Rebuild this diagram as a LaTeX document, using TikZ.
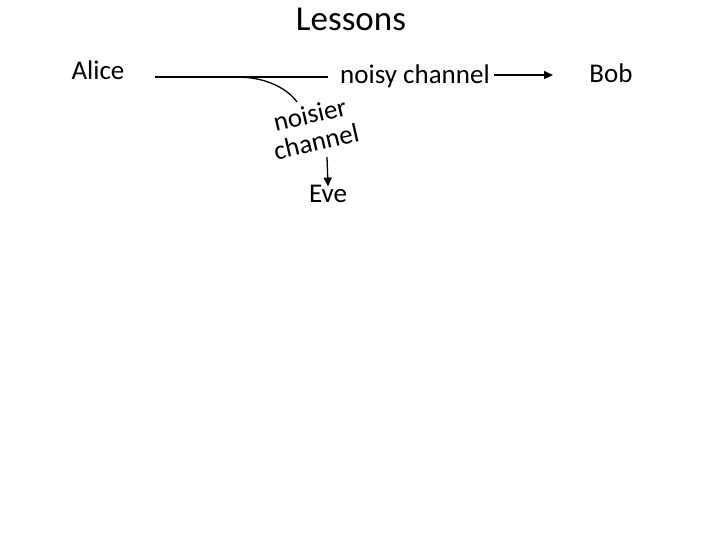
\documentclass[tikz,border=0pt]{standalone}
\usepackage{fontspec}
\setmainfont{Carlito}
\usetikzlibrary{positioning, arrows.meta}

\begin{document}
\begin{tikzpicture}[
  x=1pt, y=-1pt,
  lbl/.style={font=\fontsize{27}{28}\selectfont, inner sep=0pt, anchor=base},
  wire/.style={line width=1.3pt},
  tip/.style={-{Triangle[length=9pt, width=8pt]}},
]
  \useasboundingbox (0,0) rectangle (720,540);

  % Title
  \node[font=\fontsize{35}{40}\selectfont, inner sep=0pt, anchor=base] (title) at (351,31) {Lessons};

  % Alice -> noisy channel -> Bob
  \node[lbl] (alice) at (98,80) {Alice};
  \node[lbl, anchor=base west] (noisy) at (340,84) {noisy channel};
  \node[lbl] (bob) at (611,83) {Bob};

  \coordinate (start) at (155,77);
  \coordinate (tap) at (237,77);
  \coordinate (bobin) at (553,75);
  \draw[wire] (start) -- ([xshift=-12pt]noisy.west |- start);
  \draw[wire, tip] ([xshift=4pt]noisy.east |- bobin) -- (bobin);

  % Eve's tap
  \node[lbl, anchor=center, align=center, rotate=13] (noisier) at (313,128) {noisier\\channel};
  \node[lbl] (eve) at (328,203) {Eve};

  \coordinate (tapend) at (297,102);
  \coordinate (evein) at (327,157);
  \draw[wire] (tap) .. controls (265,77) and (287,88) .. (tapend);
  \draw[wire, tip] (evein) -- ([yshift=-1pt]eve.north);
\end{tikzpicture}
\end{document}
